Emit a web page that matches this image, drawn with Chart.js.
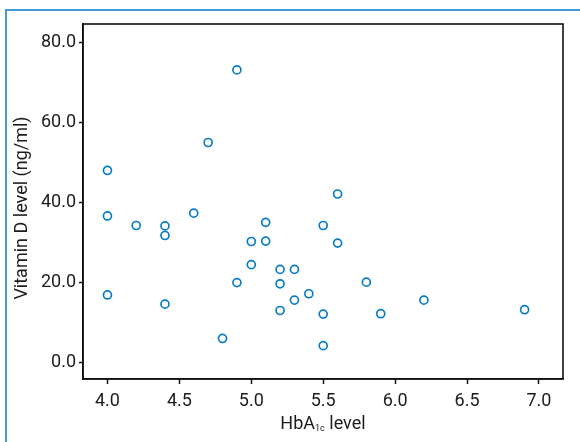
<!DOCTYPE html>
<html>
<head>
<meta charset="utf-8">
<title>Vitamin D vs HbA1c</title>
<script src="https://cdn.jsdelivr.net/npm/chart.js"></script>
<style>
    html, body { margin: 0; padding: 0; background: #fff; }
    canvas { display: block; }
</style>
</head>
<body>
<canvas id="scatterChart" width="580" height="442"></canvas>
<script>
// data
const hba1cLevel = [4.0, 4.0, 4.0, 4.2, 4.4, 4.4, 4.4, 4.6, 4.7, 4.8, 4.9, 4.9, 5.0, 5.0, 5.1, 5.1,
    5.2, 5.2, 5.2, 5.3, 5.3, 5.4, 5.5, 5.5, 5.5, 5.6, 5.6, 5.8, 5.9, 6.2, 6.9];
const vitaminD = [48.0, 36.6, 16.8, 34.2, 34.1, 31.7, 14.5, 37.3, 55.0, 5.9, 73.2, 19.9, 30.2, 24.4, 35.0, 30.3,
    23.2, 19.6, 12.9, 23.2, 15.5, 17.1, 34.2, 12.0, 4.1, 42.1, 29.8, 20.0, 12.1, 15.5, 13.1];

// tick labels
const xTicks = [4.0, 4.5, 5.0, 5.5, 6.0, 6.5, 7.0];
const yTicks = [0, 20, 40, 60, 80];

const FONT = 'Roboto, "Open Sans", sans-serif';
const TEXT_COLOR = '#1c1c1c';

// frame around the whole figure, box around the plot, axis titles
const framePlugin = {
    id: 'framePlugin',
    beforeDraw(chart) {
        const ctx = chart.ctx;
        ctx.save();
        ctx.fillStyle = '#fff';
        ctx.fillRect(0, 0, chart.width, chart.height);
        ctx.strokeStyle = '#3f9bd6';
        ctx.lineWidth = 2;
        ctx.strokeRect(6, 10, chart.width + 20, chart.height + 20);
        ctx.restore();
    },
    afterDraw(chart) {
        const ctx = chart.ctx;
        const area = chart.chartArea;
        ctx.save();
        ctx.strokeStyle = '#111';
        ctx.lineWidth = 1.6;
        ctx.strokeRect(area.left, area.top, area.right - area.left, area.bottom - area.top);

        const big = '18px ' + FONT;
        const small = '9px ' + FONT;
        ctx.fillStyle = TEXT_COLOR;

        // y title, rotated
        ctx.save();
        ctx.translate(22, 208);
        ctx.rotate(-Math.PI / 2);
        ctx.font = big;
        ctx.textAlign = 'center';
        ctx.textBaseline = 'middle';
        ctx.fillText('Vitamin D level (ng/ml)', 0, 0);
        ctx.restore();

        // HbA1c level, with 1c as subscript
        ctx.textAlign = 'left';
        ctx.textBaseline = 'alphabetic';
        ctx.font = big;
        const w1 = ctx.measureText('HbA').width;
        const w3 = ctx.measureText(' level').width;
        ctx.font = small;
        const w2 = ctx.measureText('1c').width;
        const cx = (area.left + area.right) / 2;
        let x = cx - (w1 + w2 + w3) / 2;
        const y = 428.5;
        ctx.font = big;
        ctx.fillText('HbA', x, y);
        x += w1;
        ctx.font = small;
        ctx.fillText('1c', x, y + 2.5);
        x += w2;
        ctx.font = big;
        ctx.fillText(' level', x, y);
        ctx.restore();
    }
};

function initScatterChart() {
    const ctx = document.getElementById('scatterChart').getContext('2d');

    const points = hba1cLevel.map((v, i) => ({ x: v, y: vitaminD[i] }));

    new Chart(ctx, {
        type: 'scatter',
        data: {
            datasets: [{
                data: points,
                pointStyle: 'circle',
                pointRadius: 4,
                pointHoverRadius: 4,
                pointBorderWidth: 1.7,
                borderColor: '#0a7cc4',
                backgroundColor: 'rgba(255,255,255,0)'
            }]
        },
        options: {
            responsive: false,
            animation: false,
            events: [],
            layout: {
                padding: { top: 24, right: 17, left: 0, bottom: 0 }
            },
            plugins: {
                legend: { display: false },
                tooltip: { enabled: false }
            },
            scales: {
                x: {
                    type: 'linear',
                    position: 'bottom',
                    min: 3.83,
                    max: 7.167,
                    afterBuildTicks: scale => { scale.ticks = xTicks.map(v => ({ value: v })); },
                    afterFit: scale => { scale.height = 63; },
                    ticks: {
                        font: { family: FONT, size: 18 },
                        color: TEXT_COLOR,
                        padding: 7,
                        maxRotation: 0,
                        callback: v => Number(v).toFixed(1)
                    },
                    grid: {
                        drawOnChartArea: false,
                        drawTicks: true,
                        tickLength: 5,
                        tickWidth: 1.5,
                        tickColor: '#111'
                    },
                    border: { display: true, color: '#111', width: 1.6 }
                },
                y: {
                    type: 'linear',
                    position: 'left',
                    min: -4.26,
                    max: 84.7,
                    afterBuildTicks: scale => { scale.ticks = yTicks.map(v => ({ value: v })); },
                    afterFit: scale => { scale.width = 83; },
                    ticks: {
                        font: { family: FONT, size: 18 },
                        color: TEXT_COLOR,
                        padding: 3,
                        callback: v => Number(v).toFixed(1)
                    },
                    grid: {
                        drawOnChartArea: false,
                        drawTicks: true,
                        tickLength: 4,
                        tickWidth: 1.5,
                        tickColor: '#111'
                    },
                    border: { display: true, color: '#111', width: 1.6 }
                }
            }
        },
        plugins: [framePlugin]
    });
}

document.addEventListener('DOMContentLoaded', initScatterChart);
</script>
</body>
</html>
